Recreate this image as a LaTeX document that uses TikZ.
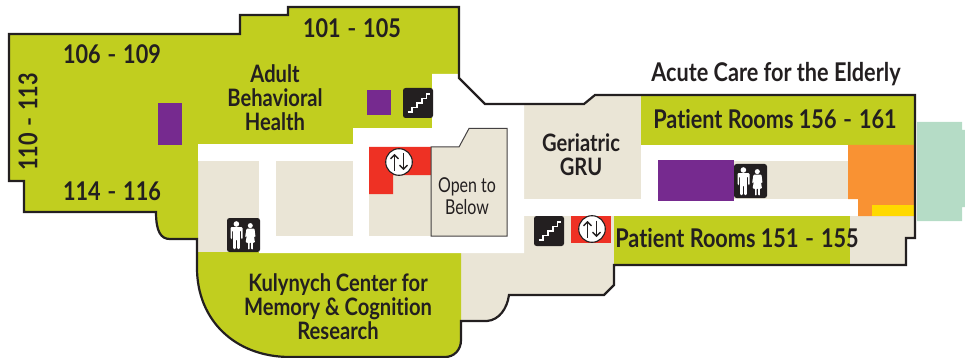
\documentclass[tikz,border=0pt]{standalone}
\usepackage{fontspec}
\usepackage{graphicx}
\setmainfont{Lato}
\newfontfamily\labfont{Lato}[FakeStretch=0.84,Ligatures=NoCommon]
\newfontfamily\openfont{Lato}[FakeStretch=0.78]
\newcommand{\rng}{\hspace{.26em}\scalebox{.72}[1]{–}\hspace{.26em}}
\definecolor{ink}{HTML}{231F20}
\definecolor{zone}{HTML}{C1CE1F}
\definecolor{room}{HTML}{EAE5D6}
\definecolor{plum}{HTML}{762A8F}
\definecolor{lift}{HTML}{EE3124}
\definecolor{amber}{HTML}{F99233}
\definecolor{sun}{HTML}{FFD900}
\definecolor{mint}{HTML}{B5DCC6}
\usetikzlibrary{arrows.meta}
\tikzset{
  x=1pt,y=-1pt,
  lab/.style={text=ink,inner sep=0pt,align=center,font=\labfont\bfseries\fontsize{25.8}{25.8}\selectfont},
  labsm/.style={lab,font=\labfont\bfseries\fontsize{24}{24}\selectfont},
  labthin/.style={lab,font=\openfont\fontsize{20.5}{21.5}\selectfont},
  iconbox/.style={fill=ink,rounded corners=2.5pt},
  stairpic/.pic={
    \fill[iconbox] (0,0) rectangle (30,30);
    \draw[white,line width=1.6pt] (4.5,24) -- (9,24) -- (9,19.5) -- (14,19.5) -- (14,15) -- (19,15) -- (19,10.5) -- (23.5,10.5) -- (23.5,6) -- (27,6);
  },
  wcpic/.pic={
    \fill[iconbox] (0,0) rectangle (33,34);
    \fill[white] (9.4,6) circle (2.8);
    \fill[white,rounded corners=1pt] (3.5,9.2) -- (15.5,9.2) -- (15.5,21) -- (14,21) -- (14,12.5) -- (12.8,12.5) -- (12.8,31) -- (10,31) -- (10,21.5) -- (8.8,21.5) -- (8.8,31) -- (6,31) -- (6,12.5) -- (5,12.5) -- (5,21) -- (3.5,21) -- cycle;
    \fill[white] (23.3,7.6) circle (2.5);
    \fill[white,rounded corners=.8pt] (19.5,10.6) -- (27.5,10.6) -- (28.5,19) -- (27.2,19) -- (26.2,14) -- (28,24.5) -- (25.8,24.5) -- (25.8,31.5) -- (24.2,31.5) -- (24.2,24.5) -- (22.6,24.5) -- (22.6,31.5) -- (21,31.5) -- (21,24.5) -- (18.6,24.5) -- (20.4,14) -- (19.4,19) -- (18.1,19) -- cycle;
  },
  liftpic/.pic={
    \draw[ink,fill=white,line width=1.1pt] (0,0) circle (13.3);
    \draw[ink,line width=1.4pt,-{Straight Barb[length=3.8pt,width=8pt]}] (-4.5,8.5) -- (-4.5,-8);
    \draw[ink,line width=1.4pt,-{Straight Barb[length=3.8pt,width=8pt]}] (4.5,-8.5) -- (4.5,8);
  }
}
\begin{document}
\begin{tikzpicture}
\useasboundingbox (0,0) rectangle (965,358);
% column beyond the wall
\fill[mint] (917,122) -- (962,122) -- (962,130) -- (965,130) -- (965,207) -- (962,207) -- (962,221) -- (917,221) -- cycle;
% floor plate
\path[fill=room] (9,34) -- (240,34) -- (240,15) -- (288,15) -- (288,7) -- (459,7) -- (459,78) -- (485,104) -- (584,104) -- (595,95) -- (915,95) -- (915,238) -- (906,238) -- (906,265) -- (614,265) -- (614,285) -- (604,295) -- (509,295) .. controls (507,309) and (499,320) .. (487,321) -- (461,321) -- (461,340) .. controls (461,350) and (454,357) .. (445,357) -- (290,357) .. controls (235,357) and (197,320) .. (197,268) -- (197,239) -- (170,239) .. controls (161,239) and (156,232) .. (156,212) -- (24,212) -- (24,181) -- (9,181) -- cycle;
% green wings
\fill[zone] (9,34) -- (240,34) -- (240,15) -- (288,15) -- (288,7) -- (459,7) -- (459,74) -- (432,74) -- (432,128) -- (353,128) -- (353,144) -- (198,144) -- (198,239) -- (170,239) .. controls (161,239) and (156,232) .. (156,212) -- (24,212) -- (24,181) -- (9,181) -- cycle;
\fill[zone] (197,252) -- (461,252) -- (461,340) .. controls (461,350) and (454,357) .. (445,357) -- (290,357) .. controls (235,357) and (197,320) .. (197,268) -- cycle;
\fill[zone] (641,95) rectangle (915,145);
\fill[zone] (614,216) rectangle (850,265);
% corridors
\fill[white] (432,74) -- (459,74) -- (459,78) -- (485,105) -- (524,105) -- (524,253) -- (259,253) -- (259,236) -- (524,236) -- (524,236) -- (507,236) -- (507,128) -- (432,128) -- cycle;
\fill[white] (198,144) rectangle (507,161);
\fill[white] (353,128) rectangle (432,147);
\fill[white] (259,161) rectangle (276,236);
\fill[white] (353,147) rectangle (369,236);
\fill[white] (432,128) rectangle (524,147);
\fill[white] (507,128) rectangle (524,236);
\fill[room] (276,161) rectangle (353,236);
\fill[room] (369,147) rectangle (431,236);
\fill[white] (524,199) rectangle (858,216);
\fill[white] (641,145) rectangle (849,161);
\fill[white] (641,145) rectangle (658,199);
% service blocks
\fill[amber] (848,145) -- (915,145) -- (915,216) -- (858,216) -- (858,199) -- (848,199) -- cycle;
\fill[sun] (872,205) rectangle (915,216);
\fill[plum] (158,103) rectangle (182,145);
\fill[plum] (367,90) rectangle (391,115);
\fill[plum] (658,160) rectangle (734,201);
\fill[lift] (369,147) -- (431,147) -- (431,175) -- (393,175) -- (393,194) -- (369,194) -- cycle;
\fill[lift] (571,216) rectangle (611,243);
% open shaft
\draw[ink!85,line width=1pt,fill=room] (431,147) -- (459,147) -- (469,128.5) -- (507,128.5) -- (507,236) -- (431,236) -- cycle;
% outer wall
\draw[ink,line width=2.2pt] (9,34) -- (240,34) -- (240,15) -- (288,15) -- (288,7) -- (459,7) -- (459,78) -- (485,104) -- (584,104) -- (595,95) -- (915,95) -- (915,238) -- (906,238) -- (906,265) -- (614,265) -- (614,285) -- (604,295) -- (509,295) .. controls (507,309) and (499,320) .. (487,321) -- (461,321) -- (461,340) .. controls (461,350) and (454,357) .. (445,357) -- (290,357) .. controls (235,357) and (197,320) .. (197,268) -- (197,239) -- (170,239) .. controls (161,239) and (156,232) .. (156,212) -- (24,212) -- (24,181) -- (9,181) -- cycle;
% icons
\pic at (403,88) {stairpic};
\pic at (534,216) {stairpic};
\pic at (227,218) {wcpic};
\pic at (734,164) {wcpic};
\pic at (399,162) {liftpic};
\pic at (592,229) {liftpic};
% labels
\node[lab] (r106) at (112,54) {106\rng 109};
\node[lab] (r101) at (352,28) {101\rng 105};
\node[lab,rotate=90] (r110) at (28,122) {110\rng 113};
\node[lab] (r114) at (112,191) {114\rng 116};
\node[labsm] (adult) at (275,98) {Adult\\Behavioral\\Health};
\node[lab] (acute) at (776,74) {Acute Care for the Elderly};
\node[lab] (p156) at (775,119) {Patient Rooms 156\rng 161};
\node[lab] (p151) at (737,238) {Patient Rooms 151\rng 155};
\node[labsm] (geri) at (581,155) {Geriatric\\GRU};
\node[labthin] (open) at (467,196) {Open to\\Below};
\node[labsm] (kuly) at (338,307) {Kulynych Center for\\Memory \& Cognition\\Research};
\end{tikzpicture}
\end{document}
